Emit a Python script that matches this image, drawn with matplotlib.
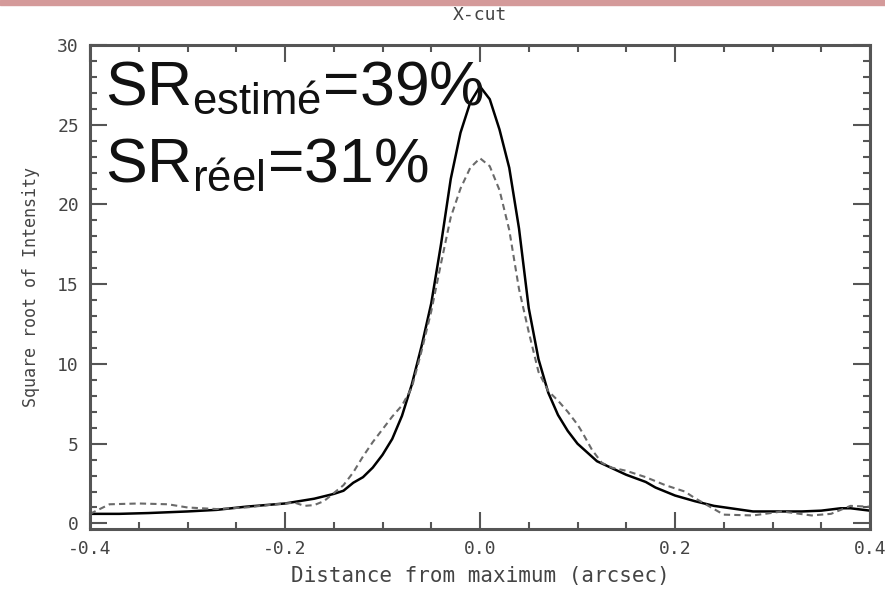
import matplotlib
matplotlib.use("Agg")
import matplotlib.pyplot as plt
from matplotlib.ticker import MultipleLocator, FormatStrFormatter
from matplotlib.patches import Rectangle

# ---- data ----
x_solid = [-0.40, -0.37, -0.34, -0.30, -0.27, -0.24, -0.20, -0.17, -0.15, -0.14,
           -0.13, -0.12, -0.11, -0.10, -0.09, -0.08, -0.07, -0.06, -0.05, -0.04,
           -0.03, -0.02, -0.01, 0.00, 0.01, 0.02, 0.03, 0.04, 0.05, 0.06,
           0.07, 0.08, 0.09, 0.10, 0.12, 0.15, 0.17, 0.18, 0.20, 0.22,
           0.24, 0.28, 0.30, 0.33, 0.35, 0.37, 0.38, 0.40]
y_solid = [0.6, 0.6, 0.65, 0.75, 0.85, 1.05, 1.25, 1.55, 1.85, 2.05,
           2.55, 2.9, 3.5, 4.3, 5.3, 6.75, 8.7, 11.1, 13.8, 17.5,
           21.6, 24.5, 26.4, 27.4, 26.6, 24.7, 22.3, 18.5, 13.5, 10.3,
           8.2, 6.8, 5.8, 5.0, 3.9, 3.05, 2.6, 2.25, 1.75, 1.4,
           1.1, 0.75, 0.75, 0.75, 0.8, 0.95, 0.95, 0.8]

x_dash = [-0.40, -0.38, -0.35, -0.32, -0.30, -0.27, -0.24, -0.21, -0.19, -0.18,
          -0.17, -0.16, -0.15, -0.14, -0.13, -0.12, -0.11, -0.10, -0.09, -0.08,
          -0.07, -0.06, -0.05, -0.04, -0.03, -0.02, -0.01, 0.00, 0.01, 0.02,
          0.03, 0.04, 0.05, 0.06, 0.07, 0.08, 0.09, 0.10, 0.105, 0.115,
          0.125, 0.135, 0.15, 0.17, 0.19, 0.21, 0.22, 0.25, 0.28, 0.31,
          0.34, 0.36, 0.38, 0.40]
y_dash = [0.6, 1.2, 1.25, 1.2, 1.0, 0.9, 1.0, 1.2, 1.3, 1.1,
          1.15, 1.4, 1.9, 2.4, 3.2, 4.2, 5.1, 5.9, 6.7, 7.4,
          8.5, 10.8, 13.3, 16.3, 19.2, 21.0, 22.3, 22.9, 22.4, 20.9,
          18.4, 14.7, 12.0, 9.5, 8.3, 7.7, 7.0, 6.2, 5.7, 4.6,
          3.8, 3.5, 3.3, 2.9, 2.4, 2.0, 1.6, 0.55, 0.5, 0.75,
          0.5, 0.6, 1.1, 1.05]

title = "X-cut"
xlabel = "Distance from maximum (arcsec)"
ylabel = "Square root of Intensity"
label1 = r"SR$_{\mathrm{estimé}}$=39%"
label2 = r"SR$_{\mathrm{réel}}$=31%"

# ---- style ----
plt.rcParams['axes.unicode_minus'] = False
plt.rcParams['mathtext.fontset'] = 'custom'
plt.rcParams['mathtext.rm'] = 'Liberation Sans'
plt.rcParams['mathtext.it'] = 'Liberation Sans'
mono = 'DejaVu Sans Mono'
axcol = '#555555'

fig = plt.figure(figsize=(8.85, 6.03), dpi=100)
fig.patches.append(Rectangle((0, 0.992), 1, 0.008, transform=fig.transFigure,
                             color='#d49a9a', zorder=0))
ax = fig.add_axes([90/885, 1-529/603, 780/885, 484/603])

ax.plot(x_solid, y_solid, color='black', lw=1.8, solid_joinstyle='round')
ax.plot(x_dash, y_dash, color='#6a6a6a', lw=1.5, dashes=(3, 2))

ax.set_xlim(-0.4, 0.4)
ax.set_ylim(-0.35, 30)

ax.xaxis.set_major_locator(MultipleLocator(0.2))
ax.xaxis.set_minor_locator(MultipleLocator(0.05))
ax.yaxis.set_major_locator(MultipleLocator(5))
ax.yaxis.set_minor_locator(MultipleLocator(1))
ax.xaxis.set_major_formatter(FormatStrFormatter('%.1f'))
ax.yaxis.set_major_formatter(FormatStrFormatter('%d'))

ax.tick_params(which='both', direction='in', top=True, right=True,
               color=axcol, width=1.5)
ax.tick_params(which='major', length=12, labelsize=13, labelcolor='#444444', pad=8)
ax.tick_params(which='minor', length=5)
for lab in ax.get_xticklabels() + ax.get_yticklabels():
    lab.set_family(mono)
for s in ax.spines.values():
    s.set_color(axcol)
    s.set_linewidth(2.2)

ax.set_title(title, family=mono, fontsize=13, color='#444444', pad=18)
ax.set_xlabel(xlabel, family=mono, fontsize=15, color='#444444', labelpad=6)
ax.set_ylabel(ylabel, family=mono, fontsize=12, color='#444444', labelpad=12)

ax.text(0.019, 0.876, label1, transform=ax.transAxes, family='Liberation Sans',
        fontsize=45, va='baseline', ha='left', color='#111111')
ax.text(0.019, 0.717, label2, transform=ax.transAxes, family='Liberation Sans',
        fontsize=45, va='baseline', ha='left', color='#111111')

fig.savefig('out.png', dpi=100)
